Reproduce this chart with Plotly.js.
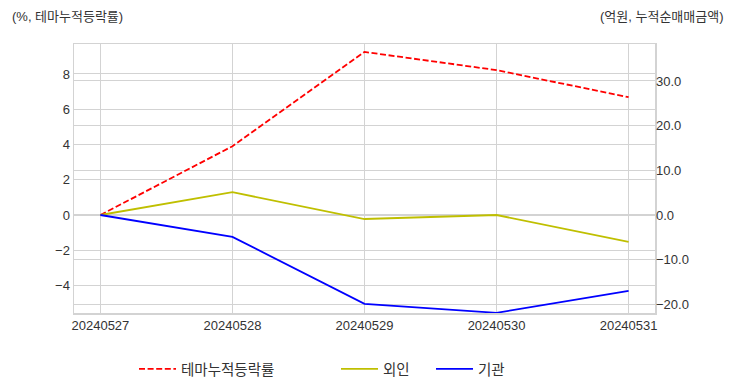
<!DOCTYPE html>
<html>
<head>
<meta charset="utf-8">
<script src="https://cdn.plot.ly/plotly-3.0.1.min.js"></script>
<style>body{margin:0;padding:0;background:#fff}#chart{width:732px;height:392px}</style>
</head>
<body>
<div id="chart"></div>
<script>
const dates = ["20240527", "20240528", "20240529", "20240530", "20240531"];
const themeReturn = [0, 3.9, 9.25, 8.22, 6.68];
const foreign = [0, 5.1, -0.9, 0.0, -6.0];
const institution = [0, -4.9, -19.9, -21.9, -17.0];

const FONT = "Liberation Sans, Arial, 'Noto Sans CJK KR', sans-serif";
const GRID = "#d3d3d3";

const traces = [
  {x: dates, y: themeReturn, name: "테마누적등락률", type: "scatter", mode: "lines",
   line: {color: "#ff0000", width: 1.8, dash: "6px,2.6px"}, yaxis: "y", legend: "legend"},
  {x: dates, y: foreign, name: "외인", type: "scatter", mode: "lines",
   line: {color: "#bfbf00", width: 1.8}, yaxis: "y2", legend: "legend2"},
  {x: dates, y: institution, name: "기관", type: "scatter", mode: "lines",
   line: {color: "#0000ff", width: 1.8}, yaxis: "y2", legend: "legend3"}
];

function leg(px) {
  return {x: px / 732, xref: "container", xanchor: "left", y: 1 - 369 / 392, yref: "container",
          yanchor: "middle", orientation: "h", bgcolor: "rgba(0,0,0,0)", itemwidth: 37,
          font: {family: FONT, size: 14.5, color: "#333"}};
}

const layout = {
  width: 732, height: 392,
  margin: {l: 74, r: 77, t: 44, b: 79},
  paper_bgcolor: "#fff", plot_bgcolor: "#fff",
  font: {family: FONT, size: 13, color: "#333"},
  showlegend: true,
  legend: leg(134),
  legend2: leg(336),
  legend3: leg(431),
  xaxis: {type: "category", range: [-0.2, 4.2], showgrid: true, gridcolor: GRID, gridwidth: 1,
          showline: true, linecolor: GRID, linewidth: 1.5, mirror: true, ticks: "", zeroline: false,
          tickfont: {size: 13, color: "#333"}, fixedrange: true},
  yaxis: {range: [-5.56, 9.7], dtick: 2, tick0: 0, showgrid: true, gridcolor: GRID, gridwidth: 1,
          showline: true, linecolor: GRID, linewidth: 1.5, mirror: true, zeroline: false, ticks: "",
          tickfont: {size: 13, color: "#333"}},
  yaxis2: {overlaying: "y", side: "right", range: [-21.94, 38.28], dtick: 10, tick0: 0,
           tickformat: ".1f", showgrid: true, gridcolor: GRID, gridwidth: 1, zeroline: false, ticks: "",
           tickfont: {size: 13, color: "#333"}},
  annotations: [
    {text: "(%, 테마누적등락률)", xref: "paper", yref: "paper", x: -64 / 581, y: 1 + 28 / 269,
     xanchor: "left", yanchor: "middle", showarrow: false, font: {family: FONT, size: 13, color: "#333"}},
    {text: "(억원, 누적순매매금액)", xref: "paper", yref: "paper", x: 1 + 71 / 581, y: 1 + 28 / 269,
     xanchor: "right", yanchor: "middle", showarrow: false, font: {family: FONT, size: 13, color: "#333"}}
  ]
};

Plotly.newPlot("chart", traces, layout, {displayModeBar: false, staticPlot: true});
</script>
</body>
</html>
